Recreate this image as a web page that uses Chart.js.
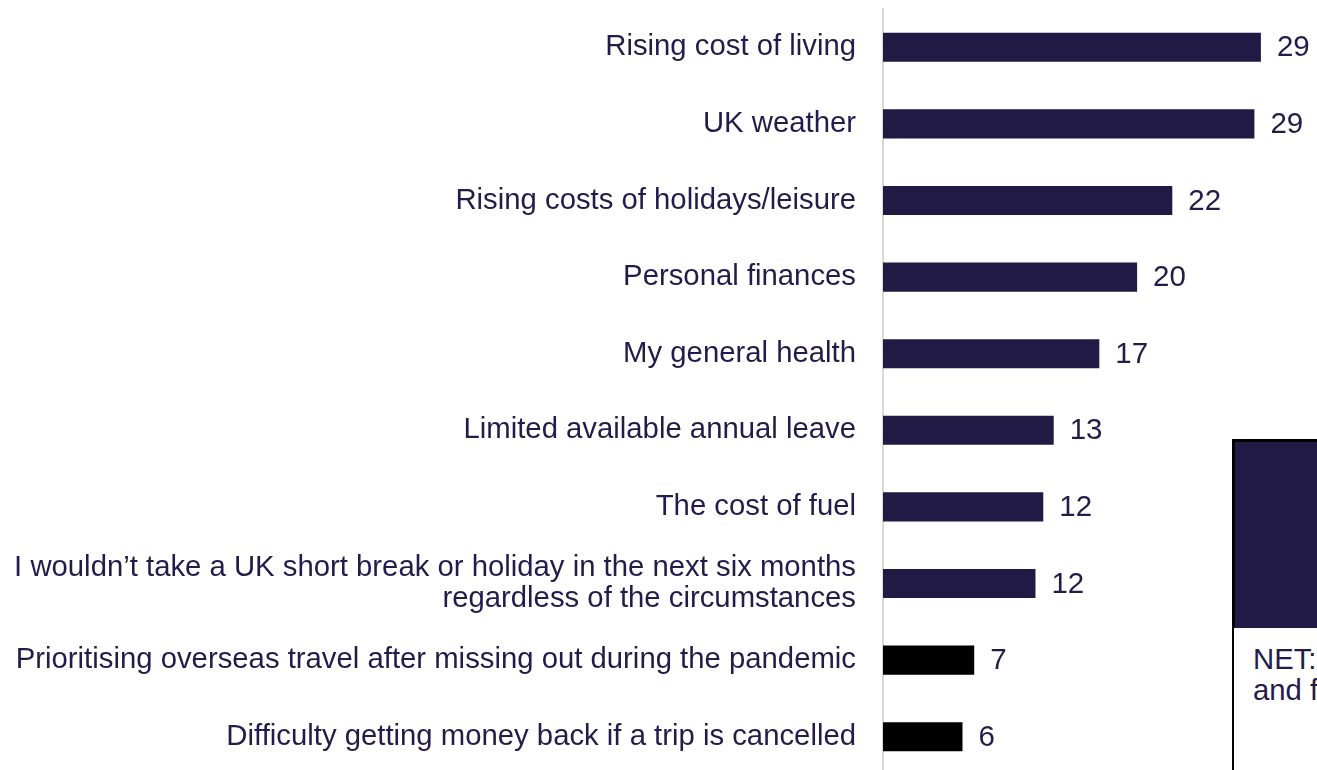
<!DOCTYPE html>
<html>
<head>
<meta charset="utf-8">
<script src="https://cdn.jsdelivr.net/npm/chart.js@4.4.1/dist/chart.umd.min.js"></script>
<style>
  html, body { margin: 0; padding: 0; width: 1317px; height: 770px; overflow: hidden; background: #ffffff; }
  #wrap { position: absolute; left: 0; top: 0; width: 1317px; height: 775px; }
  #darkBox { position: absolute; left: 1232px; top: 439px; width: 100px; height: 186px;
             background: #211a44; border: 3px solid #000000; }
  #netBox { position: absolute; left: 1232px; top: 628px; width: 100px; height: 160px;
            background: #ffffff; border-left: 2px solid #000000; overflow: hidden; }
  #netText { position: absolute; left: 19px; top: 15px; width: 400px; white-space: nowrap;
             font-family: 'Liberation Sans', Arial, sans-serif; font-size: 29.3px; line-height: 31px; color: #231c4a; }
</style>
</head>
<body>
<div id="wrap"><canvas id="c"></canvas></div>
<div id="darkBox"></div>
<div id="netBox"><div id="netText">NET: Cost of living<br>and finances</div></div>
<script>
const categories = [
  "Rising cost of living",
  "UK weather",
  "Rising costs of holidays/leisure",
  "Personal finances",
  "My general health",
  "Limited available annual leave",
  "The cost of fuel",
  ["I wouldn\u2019t take a UK short break or holiday in the next six months", "regardless of the circumstances"],
  "Prioritising overseas travel after missing out during the pandemic",
  "Difficulty getting money back if a trip is cancelled"
];
const values = [29.0, 28.5, 22.2, 19.5, 16.6, 13.1, 12.3, 11.7, 7.0, 6.1];
const valueLabels = ["29", "29", "22", "20", "17", "13", "12", "12", "7", "6"];
const barColors = ["#211a44", "#211a44", "#211a44", "#211a44", "#211a44", "#211a44", "#211a44", "#211a44", "#000000", "#000000"];

const FONT = "'Liberation Sans', Arial, sans-serif";
const TEXT = "#231c4a";

const valueLabelPlugin = {
  id: 'valueLabels',
  afterDatasetsDraw(chart) {
    const ctx = chart.ctx;
    const meta = chart.getDatasetMeta(0);
    ctx.save();
    ctx.font = "29.5px " + FONT;
    ctx.fillStyle = TEXT;
    ctx.textAlign = 'left';
    ctx.textBaseline = 'middle';
    meta.data.forEach((bar, i) => {
      ctx.fillText(valueLabels[i], bar.x + 16, bar.y + 1);
    });
    ctx.restore();
  }
};

new Chart(document.getElementById('c'), {
  type: 'bar',
  data: {
    labels: categories,
    datasets: [{
      data: values,
      backgroundColor: barColors,
      borderWidth: 0,
      categoryPercentage: 1.0,
      barPercentage: 0.38
    }]
  },
  options: {
    indexAxis: 'y',
    responsive: true,
    maintainAspectRatio: false,
    animation: false,
    layout: { padding: { top: 9, right: 17, bottom: 0, left: 0 } },
    plugins: { legend: { display: false }, tooltip: { enabled: false } },
    scales: {
      x: { display: false, min: 0, max: 32 },
      y: {
        afterFit(scale) {
          scale.width = 883;
          scale.paddingTop = 0;
          scale.paddingBottom = 0;
        },
        grid: { display: false, drawTicks: false },
        border: { display: true, color: '#d9d9d9', width: 2 },
        ticks: {
          padding: 27,
          color: TEXT,
          font: { family: FONT, size: 29.3, lineHeight: 1.06 },
          autoSkip: false
        }
      }
    }
  },
  plugins: [valueLabelPlugin]
});
</script>
</body>
</html>
